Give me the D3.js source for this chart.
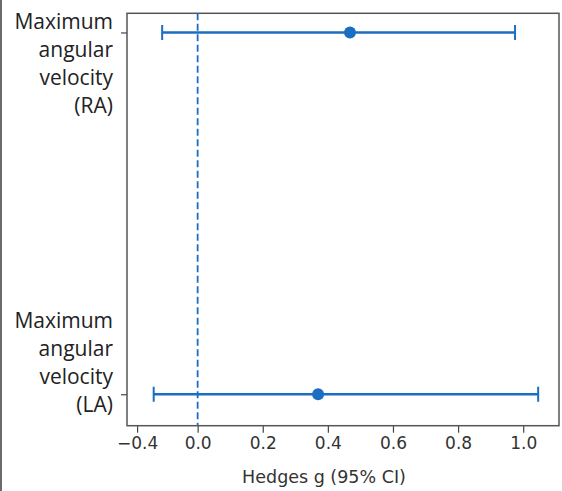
<!DOCTYPE html>
<html>
<head>
<meta charset="utf-8">
<script src="https://cdn.jsdelivr.net/npm/d3@7"></script>
<style>
  body { margin: 0; background: #fff; }
  svg { display: block; }
</style>
</head>
<body>
<script>
// data
let outcomes = ['Maximum angular velocity (LA)', 'Maximum angular velocity (RA)'];
let labelLines = [['Maximum', 'angular', 'velocity', '(LA)'], ['Maximum', 'angular', 'velocity', '(RA)']];
let effects = [0.370, 0.468];
let lowerCI = [-0.135, -0.109];
let upperCI = [1.046, 0.975];
// the first tick of the source sits closer to zero than its label says
let tickValues = [-0.186, 0.0, 0.2, 0.4, 0.6, 0.8, 1.0];
let tickLabels = ['\u22120.4', '0.0', '0.2', '0.4', '0.6', '0.8', '1.0'];

let width = 562;
let height = 491;
let blue = '#1b6ec2';

let svg = d3.select('body').append('svg').attr('width', width).attr('height', height);

// thin border down the left side of the clip
svg.append('line').attr('x1', 1).attr('x2', 1).attr('y1', 0).attr('y2', height)
  .attr('stroke', '#6b6b6b').attr('stroke-width', 2);

let plotLeft = 127, plotRight = 559, plotTop = 13.3, plotBottom = 425.7;

let x = d3.scaleLinear().domain([-0.217, 1.110]).range([plotLeft, plotRight]);
let y = d3.scaleLinear().domain([-0.087, 1.053]).range([plotBottom, plotTop]);

// x axis
let xAxis = d3.axisBottom(x).tickValues(tickValues).tickFormat((d, i) => tickLabels[i])
  .tickSize(7).tickSizeOuter(0).tickPadding(4);
let gx = svg.append('g').attr('transform', 'translate(0,' + plotBottom + ')').call(xAxis);
gx.select('.domain').remove();
gx.selectAll('line').attr('stroke', '#444').attr('stroke-width', 1.2);
gx.selectAll('text').attr('font-family', 'DejaVu Sans').attr('font-size', 17).attr('fill', '#333');

// y axis ticks only, labels drawn as wrapped lines
let yAxis = d3.axisLeft(y).tickValues([0, 1]).tickFormat('').tickSize(6).tickSizeOuter(0);
let gy = svg.append('g').attr('transform', 'translate(' + plotLeft + ',0)').call(yAxis);
gy.select('.domain').remove();
gy.selectAll('line').attr('stroke', '#444').attr('stroke-width', 1.2);

let labelBase = [328.3, 29.3];
labelLines.forEach((lines, i) => {
  let t = svg.append('text').attr('text-anchor', 'end').attr('font-family', 'Open Sans')
    .attr('font-size', 21).attr('fill', '#222');
  lines.forEach((s, j) => {
    t.append('tspan').attr('x', 113).attr('y', labelBase[i] + j * 28).text(s);
  });
});

// frame
svg.append('rect').attr('x', plotLeft).attr('y', plotTop)
  .attr('width', plotRight - plotLeft).attr('height', plotBottom - plotTop)
  .attr('fill', 'none').attr('stroke', '#555').attr('stroke-width', 1.5);

// zero line
svg.append('line').attr('x1', x(0)).attr('x2', x(0)).attr('y1', plotTop).attr('y2', plotBottom)
  .attr('stroke', blue).attr('stroke-width', 1.8).attr('stroke-dasharray', '7,3.5');

// error bars
let rows = svg.append('g').selectAll('g').data(outcomes).enter().append('g');
rows.append('line')
  .attr('x1', (d, i) => x(lowerCI[i])).attr('x2', (d, i) => x(upperCI[i]))
  .attr('y1', (d, i) => y(i)).attr('y2', (d, i) => y(i))
  .attr('stroke', blue).attr('stroke-width', 2.5);
rows.append('line')
  .attr('x1', (d, i) => x(lowerCI[i])).attr('x2', (d, i) => x(lowerCI[i]))
  .attr('y1', (d, i) => y(i) - 7.5).attr('y2', (d, i) => y(i) + 7.5)
  .attr('stroke', blue).attr('stroke-width', 2);
rows.append('line')
  .attr('x1', (d, i) => x(upperCI[i])).attr('x2', (d, i) => x(upperCI[i]))
  .attr('y1', (d, i) => y(i) - 7.5).attr('y2', (d, i) => y(i) + 7.5)
  .attr('stroke', blue).attr('stroke-width', 2);
rows.append('circle')
  .attr('cx', (d, i) => x(effects[i])).attr('cy', (d, i) => y(i)).attr('r', 6)
  .attr('fill', blue);

// x title
svg.append('text').attr('x', 324).attr('y', 483).attr('text-anchor', 'middle')
  .attr('font-family', 'DejaVu Sans').attr('font-size', 17.5).attr('fill', '#333')
  .text('Hedges g (95% CI)');
</script>
</body>
</html>
